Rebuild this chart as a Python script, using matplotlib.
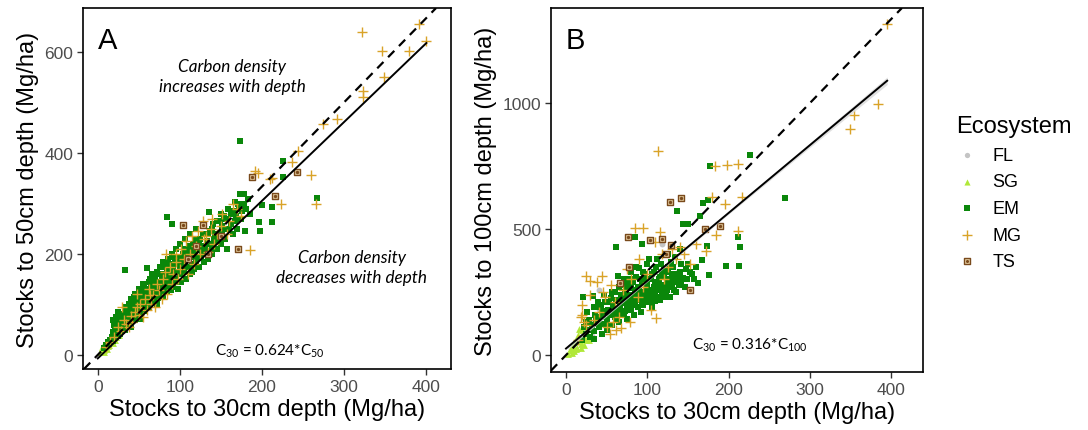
import numpy as np
import matplotlib
matplotlib.use("Agg")
import matplotlib.pyplot as plt
from matplotlib.legend_handler import HandlerTuple

plt.rcParams["font.family"] = ["Liberation Sans", "DejaVu Sans"]
plt.rcParams["mathtext.fontset"] = "custom"
plt.rcParams["mathtext.rm"] = "Lato"
plt.rcParams["mathtext.it"] = "Lato:italic"

### ---------------- data ---------------- ###
# panel A: stocks to 30 cm (x) vs stocks to 50 cm (y), Mg/ha
fl_a = [(30, 50), (50, 85), (62, 108)]
sg_a = [(3, 5), (5, 8), (6, 12), (8, 10), (8, 16), (10, 14), (10, 22), (12, 18), (12, 28),
        (14, 20), (15, 30), (16, 25), (18, 32), (20, 38), (22, 35), (24, 45), (26, 40),
        (5, 15), (7, 6), (11, 12), (18, 24), (21, 30)]
em_a = [(8, 14), (10, 20), (12, 25), (14, 22), (15, 30), (17, 35), (18, 28), (20, 40), (20, 60),
        (22, 45), (22, 75), (24, 50), (25, 38), (25, 85), (27, 55), (28, 80), (28, 65), (30, 48),
        (30, 70), (32, 60), (33, 169), (33, 85), (35, 58), (35, 75), (36, 90), (38, 65), (38, 100),
        (40, 72), (40, 55), (40, 110), (42, 80), (42, 95), (44, 115), (45, 70), (45, 88), (46, 120),
        (48, 100), (48, 78), (50, 90), (50, 130), (52, 110), (52, 85), (54, 95), (55, 125), (55, 140),
        (56, 105), (58, 88), (58, 115), (60, 172), (60, 100), (60, 130), (62, 120), (62, 95),
        (63, 145), (65, 110), (65, 135), (66, 160), (68, 105), (68, 125), (70, 150), (70, 115),
        (70, 135), (72, 165), (72, 100), (74, 128), (75, 145), (75, 120), (76, 175), (78, 135),
        (78, 155), (80, 115), (80, 140), (80, 185), (82, 160), (82, 130), (84, 273), (84, 150),
        (85, 170), (85, 125), (86, 190), (88, 145), (88, 165), (90, 200), (90, 135), (90, 155),
        (91, 260), (92, 175), (92, 140), (94, 185), (95, 150), (95, 210), (96, 165), (98, 130),
        (98, 195), (100, 160), (100, 175), (100, 220), (102, 145), (102, 185), (104, 200),
        (105, 165), (106, 230), (108, 150), (108, 190), (110, 175), (110, 210), (112, 160),
        (112, 240), (114, 195), (115, 180), (116, 220), (118, 170), (118, 200), (120, 250),
        (120, 185), (122, 210), (124, 175), (125, 230), (126, 195), (128, 215), (130, 185),
        (130, 260), (132, 205), (134, 240), (135, 190), (136, 283), (138, 220), (140, 200),
        (140, 250), (142, 230), (145, 210), (145, 265), (148, 240), (150, 220), (150, 280),
        (152, 255), (155, 230), (156, 270), (158, 210), (160, 250), (162, 280), (165, 240),
        (167, 304), (168, 265), (170, 250), (172, 290), (173, 320), (174, 425), (175, 270),
        (178, 300), (180, 245), (183, 310), (186, 280), (197, 264), (198, 246), (201, 297),
        (212, 293), (213, 263), (226, 385), (226, 353), (268, 311),
        (18, 45), (19, 70), (21, 52), (23, 62), (26, 70), (27, 42), (29, 58), (31, 82), (33, 50),
        (34, 95), (36, 68), (37, 80), (39, 88), (41, 62), (43, 105), (44, 75), (46, 98), (47, 85),
        (49, 112), (51, 72), (53, 120), (54, 105), (56, 135), (57, 92), (59, 125), (61, 110),
        (63, 100), (64, 150), (66, 118), (67, 140), (69, 130), (71, 110), (71, 160), (73, 145),
        (74, 112), (76, 135), (77, 160), (79, 125), (81, 150), (83, 175), (84, 140), (86, 158),
        (87, 180), (89, 128), (91, 170), (93, 150), (93, 195), (95, 165), (97, 180), (99, 145),
        (101, 195), (103, 170), (105, 210), (107, 180), (109, 200), (111, 190), (113, 215),
        (115, 165), (117, 205), (119, 230), (121, 195), (123, 225), (127, 205), (129, 240),
        (131, 215), (133, 225), (137, 245), (139, 210), (141, 260), (143, 240), (146, 225),
        (149, 265), (151, 245), (154, 275), (157, 250), (159, 290), (163, 260), (166, 285),
        (169, 275), (171, 300), (176, 285), (179, 320), (181, 290)]
mg_a = [(10, 16), (15, 25), (20, 35), (25, 55), (28, 48), (32, 70), (35, 62), (38, 55), (40, 78),
        (42, 65), (45, 85), (48, 95), (50, 80), (52, 100), (55, 75), (58, 110), (60, 90), (62, 130),
        (65, 100), (68, 118), (70, 95), (72, 140), (75, 128), (78, 110), (80, 150), (82, 165),
        (83, 200), (85, 120), (88, 175), (90, 140), (92, 160), (95, 185), (98, 150), (100, 170),
        (102, 210), (105, 190), (108, 225), (110, 160), (112, 200), (115, 235), (118, 180),
        (120, 215), (122, 245), (125, 200), (128, 265), (130, 230), (135, 205), (138, 250),
        (140, 270), (142, 220), (145, 240), (150, 255), (152, 280), (158, 240), (160, 265),
        (165, 300), (170, 290), (175, 275), (186, 209), (192, 365), (195, 360), (210, 349),
        (212, 351), (224, 299), (237, 382), (244, 405), (260, 357), (266, 299), (275, 458),
        (292, 468), (322, 641), (324, 524), (324, 511), (347, 603), (349, 552), (380, 602),
        (392, 656), (401, 623), (30, 95), (48, 120), (64, 118), (96, 200), (132, 235)]
ts_a = [(104, 258), (128, 258), (171, 211), (188, 353), (216, 315), (243, 362), (110, 190),
        (120, 215), (135, 200), (150, 235)]

# panel B: stocks to 30 cm (x) vs stocks to 100 cm (y), Mg/ha
fl_b = [(41, 258), (40, 183), (30, 130), (32, 77), (118, 441), (138, 331), (55, 170), (25, 100)]
sg_b = [(3, 5), (5, 20), (8, 35), (10, 15), (10, 50), (12, 60), (14, 30), (15, 80), (18, 45),
        (20, 100), (22, 70), (25, 95), (7, 10), (28, 60), (12, 25), (17, 55), (22, 40), (6, 30),
        (24, 60), (16, 103), (9, 20), (19, 30)]
em_b = [(20, 60), (22, 110), (21, 229), (25, 85), (28, 140), (30, 70), (32, 120), (33, 236),
        (34, 64), (35, 95), (36, 160), (38, 130), (40, 110), (40, 190), (42, 150), (44, 85),
        (45, 175), (46, 125), (48, 210), (50, 140), (50, 100), (52, 180), (54, 160), (55, 225),
        (56, 120), (58, 195), (60, 150), (60, 250), (62, 175), (62, 428), (64, 315), (64, 215),
        (65, 130), (66, 190), (68, 240), (68, 160), (70, 205), (70, 280), (72, 175), (72, 225),
        (74, 260), (75, 190), (75, 145), (76, 300), (78, 215), (78, 240), (80, 180), (80, 265),
        (80, 330), (82, 200), (82, 290), (84, 230), (84, 160), (85, 468), (85, 250), (86, 310),
        (88, 190), (88, 270), (90, 220), (90, 345), (92, 250), (92, 170), (94, 441), (94, 290),
        (95, 200), (96, 235), (96, 320), (98, 260), (100, 210), (100, 280), (100, 360), (102, 230),
        (103, 209), (104, 300), (105, 250), (106, 190), (108, 330), (108, 270), (110, 215),
        (110, 240), (112, 290), (112, 380), (114, 260), (115, 220), (116, 310), (118, 240),
        (120, 229), (120, 340), (122, 280), (124, 260), (125, 400), (126, 300), (128, 230),
        (130, 320), (130, 270), (132, 350), (135, 250), (136, 573), (138, 300), (140, 330),
        (140, 420), (142, 280), (144, 306), (144, 520), (146, 269), (150, 520), (150, 360),
        (155, 320), (162, 286), (165, 551), (167, 379), (168, 604), (173, 432), (175, 617),
        (176, 319), (177, 752), (197, 352), (211, 468), (213, 352), (214, 428), (226, 795),
        (269, 622),
        (24, 130), (26, 170), (30, 100), (34, 190), (37, 145), (39, 210), (41, 130), (43, 200),
        (45, 150), (47, 240), (49, 170), (51, 120), (53, 210), (55, 160), (57, 250), (59, 180),
        (61, 220), (63, 140), (65, 270), (67, 200), (69, 230), (71, 160), (71, 300), (73, 250),
        (76, 210), (77, 270), (79, 190), (81, 240), (83, 300), (85, 200), (86, 350), (87, 260),
        (89, 230), (91, 300), (93, 215), (95, 330), (97, 250), (99, 230), (101, 300), (102, 380),
        (104, 260), (106, 320), (107, 220), (109, 290), (111, 350), (113, 230), (115, 280),
        (117, 360), (119, 270), (121, 310), (123, 240), (125, 330), (127, 280), (129, 370),
        (131, 300), (133, 260), (134, 390), (137, 320), (139, 280), (141, 360), (143, 300),
        (147, 340), (149, 300), (152, 330), (158, 300), (160, 350),
        (58, 165), (66, 175), (74, 205), (78, 285), (84, 215), (90, 265), (94, 235), (98, 300),
        (104, 235), (108, 255), (114, 300), (118, 320), (122, 260), (126, 350), (132, 290)]
mg_b = [(15, 60), (18, 150), (20, 159), (25, 315), (29, 295), (25, 120), (35, 140), (40, 170),
        (44, 315), (48, 230), (54, 83), (55, 280), (58, 130), (60, 210), (68, 106), (70, 260),
        (75, 340), (79, 132), (80, 300), (85, 503), (88, 230), (90, 380), (95, 503), (95, 270),
        (100, 320), (105, 180), (110, 448), (111, 147), (113, 808), (116, 487), (118, 400),
        (120, 300), (125, 350), (130, 420), (135, 380), (140, 430), (145, 400), (153, 361),
        (160, 440), (172, 414), (179, 629), (183, 752), (185, 477), (196, 600), (198, 755),
        (211, 759), (212, 491), (216, 626), (349, 898), (354, 953), (384, 997), (395, 1315),
        (20, 200), (30, 240), (38, 290), (22, 130), (45, 250), (50, 110), (62, 100), (65, 150)]
ts_b = [(66, 286), (76, 468), (78, 348), (103, 457), (118, 461), (123, 401), (128, 609),
        (129, 437), (142, 622), (152, 259), (171, 500), (189, 514)]

# fitted smooth (intercept, slope) and its confidence half-width along x
fit_a = (-7.0, 1.56)
fit_b = (26.0, 2.69)
band_x_b = [2, 100, 200, 300, 395]
band_hw_b = [9, 4, 5, 9, 15]
fit_xmax = [401, 395]

depth = [50, 100]
labels_eq = [r"C$_{30}$ = 0.624*C$_{50}$", r"C$_{30}$ = 0.316*C$_{100}$"]

### ---------------------------------------------------- ###
col = {"FL": "#c4c4c4", "SG": "#b0e838", "EM": "#0a870a", "MG": "#d9a328", "TS": "#7a4a1c"}
tick_col = "#4d4d4d"


def draw_points(ax, fl, sg, em, mg, ts):
    fl, sg, em, mg, ts = (np.array(p, dtype=float) for p in (fl, sg, em, mg, ts))
    h_fl = ax.scatter(fl[:, 0], fl[:, 1], s=18, marker="o", color=col["FL"], lw=0, zorder=2)
    h_sg = ax.scatter(sg[:, 0], sg[:, 1], s=24, marker="^", color=col["SG"], lw=0, zorder=2)
    h_em = ax.scatter(em[:, 0], em[:, 1], s=24, marker="s", color=col["EM"], lw=0, zorder=3)
    h_mg = ax.scatter(mg[:, 0], mg[:, 1], s=60, marker="+", color=col["MG"], lw=1.0, zorder=3)
    h_ts = ax.scatter(ts[:, 0], ts[:, 1], s=24, marker="s", facecolor="#e6cfa2",
                      edgecolor=col["TS"], lw=1.0, zorder=4)
    h_tx = ax.scatter(ts[:, 0], ts[:, 1], s=6, marker="o", color=col["TS"], lw=0, zorder=4)
    return [h_fl, h_sg, h_em, h_mg, (h_ts, h_tx)]


fig = plt.figure(figsize=(10.88, 4.31), dpi=100)
ax_a = fig.add_axes([0.0763, 0.1415, 0.3382, 0.8376])
ax_b = fig.add_axes([0.5064, 0.1346, 0.3419, 0.8445])

handles = draw_points(ax_a, fl_a, sg_a, em_a, mg_a, ts_a)
draw_points(ax_b, fl_b, sg_b, em_b, mg_b, ts_b)

for ax, fit, xmax, d in zip([ax_a, ax_b], [fit_a, fit_b], fit_xmax, depth):
    xs = np.linspace(0, xmax, 50)
    ax.plot(xs, fit[0] + fit[1] * xs, color="black", lw=1.4, zorder=6)
    ax.axline((0, 0), slope=d / 30, color="black", lw=1.6, ls=(0, (4, 3)), zorder=6)

bx = np.array(band_x_b, dtype=float)
by = fit_b[0] + fit_b[1] * bx
ax_b.fill_between(bx, by - np.array(band_hw_b), by + np.array(band_hw_b),
                  color="#d9d9d9", alpha=0.8, lw=0, zorder=5)

ax_a.set_xlim(-18, 431)
ax_a.set_ylim(-28, 688)
ax_a.set_yticks([0, 200, 400, 600])
ax_b.set_xlim(-18.5, 439)
ax_b.set_ylim(-67, 1377)
ax_b.set_yticks([0, 500, 1000])

for ax, d, lab in zip([ax_a, ax_b], depth, ["A", "B"]):
    ax.set_xticks([0, 100, 200, 300, 400])
    ax.tick_params(direction="out", length=4, width=1, color="#333333",
                   labelcolor=tick_col, labelsize=12.5, pad=3)
    for sp in ax.spines.values():
        sp.set_linewidth(1.2)
        sp.set_color("black")
    ax.set_xlabel("Stocks to 30cm depth (Mg/ha)", fontsize=17, labelpad=3)
    ax.set_ylabel("Stocks to %dcm depth (Mg/ha)" % d, fontsize=17, labelpad=4)
    ax.text(0.04, 0.95, lab, transform=ax.transAxes, fontsize=21, va="top", ha="left")

ax_a.text(210, 10, labels_eq[0], fontsize=11, ha="center", va="center", family="Lato")
ax_b.text(226, 44, labels_eq[1], fontsize=11, ha="center", va="center", family="Lato")

ax_a.text(164, 553, "Carbon density\nincreases with depth", fontsize=12.3, style="italic",
          family="Lato", ha="center", va="center", linespacing=1.3)
ax_a.text(310, 174, "Carbon density\ndecreases with depth", fontsize=12.3, style="italic",
          family="Lato", ha="center", va="center", linespacing=1.3)

leg = fig.legend(handles, ["FL", "SG", "EM", "MG", "TS"], loc="upper left",
                 bbox_to_anchor=(0.864, 0.768), frameon=False, title="Ecosystem",
                 title_fontsize=17, fontsize=13, labelspacing=0.53, handletextpad=0.8,
                 handlelength=1.2, alignment="left", markerscale=0.9,
                 handler_map={tuple: HandlerTuple(ndivide=1, pad=0)})

fig.savefig("out.png", dpi=100, facecolor="w")
